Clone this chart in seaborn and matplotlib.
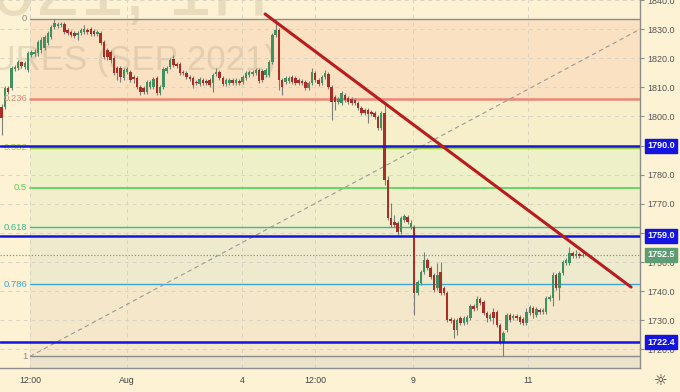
import numpy as np
import pandas as pd
import matplotlib
matplotlib.use("Agg")
import matplotlib.pyplot as plt
import matplotlib.transforms as mtransforms
from matplotlib import font_manager
import seaborn as sns

# hourly candles, gold futures (Sep 2021)
opens = [1803.2, 1803.2, 1809.8, 1809.8, 1816.3, 1816.6, 1818.7, 1817.0, 1816.0, 1821.1,
         1821.5, 1821.8, 1822.8, 1823.5, 1825.2, 1827.3, 1830.7, 1831.1, 1831.4, 1831.8,
         1829.7, 1829.0, 1828.7, 1828.0, 1828.7, 1829.0, 1829.7, 1830.0, 1829.4, 1828.3,
         1828.7, 1825.6, 1822.8, 1822.1, 1820.1, 1816.6, 1816.6, 1813.2, 1815.3, 1815.3,
         1813.6, 1813.2, 1810.1, 1809.8, 1808.4, 1810.1, 1810.1, 1813.2, 1808.1, 1810.1,
         1815.6, 1817.0, 1819.7, 1818.0, 1818.0, 1815.3, 1814.9, 1813.6, 1813.2, 1811.8,
         1811.1, 1812.5, 1812.2, 1812.5, 1811.5, 1814.6, 1815.3, 1813.2, 1811.1, 1811.5,
         1812.5, 1811.5, 1812.2, 1811.8, 1813.2, 1814.2, 1814.6, 1814.9, 1816.0, 1815.6,
         1814.2, 1814.2, 1818.7, 1828.0, 1829.7, 1812.5, 1811.8, 1812.2, 1813.6, 1813.2,
         1812.5, 1812.2, 1811.8, 1809.8, 1811.5, 1814.9, 1812.5, 1811.5, 1813.6, 1814.6,
         1810.1, 1806.7, 1805.0, 1804.6, 1807.4, 1806.3, 1806.0, 1805.7, 1804.6, 1802.9,
         1802.2, 1802.2, 1801.5, 1801.2, 1799.8, 1796.0, 1801.2, 1778.2, 1765.1, 1763.7,
         1763.4, 1760.3, 1764.4, 1765.5, 1762.0, 1762.0, 1739.4, 1742.8, 1746.6, 1750.7,
         1747.9, 1745.5, 1741.1, 1746.6, 1741.1, 1739.4, 1730.4, 1730.1, 1726.6, 1730.8,
         1729.1, 1729.4, 1730.8, 1734.9, 1734.2, 1737.3, 1736.3, 1732.5, 1730.4, 1732.8,
         1732.8, 1728.4, 1722.5, 1726.6, 1731.8, 1730.8, 1731.5, 1731.1, 1730.4, 1729.1,
         1732.5, 1734.2, 1731.8, 1733.5, 1732.8, 1732.8, 1737.3, 1737.6, 1745.5, 1741.1,
         1746.2, 1749.7, 1749.7, 1753.1, 1752.1, 1752.8, 1752.1]
highs = [1804.3, 1810.5, 1810.5, 1817.3, 1817.7, 1819.4, 1819.0, 1819.0, 1822.5, 1822.8,
         1823.2, 1826.3, 1827.3, 1828.0, 1829.4, 1831.4, 1833.5, 1832.4, 1832.4, 1832.4,
         1830.4, 1829.7, 1829.4, 1829.4, 1830.4, 1831.4, 1830.4, 1830.7, 1830.0, 1829.7,
         1829.4, 1826.3, 1823.5, 1822.8, 1820.8, 1817.3, 1817.3, 1816.6, 1817.0, 1816.0,
         1814.2, 1813.9, 1810.8, 1810.5, 1812.5, 1812.5, 1813.6, 1813.9, 1810.8, 1817.0,
         1817.3, 1820.1, 1821.1, 1818.7, 1818.7, 1816.0, 1815.6, 1814.2, 1813.9, 1812.5,
         1813.6, 1813.2, 1812.9, 1813.2, 1814.9, 1816.6, 1816.0, 1813.9, 1813.2, 1813.2,
         1813.2, 1813.2, 1812.9, 1814.2, 1815.6, 1816.0, 1816.0, 1816.6, 1816.6, 1816.3,
         1816.6, 1819.4, 1828.7, 1833.5, 1830.4, 1813.2, 1813.9, 1813.9, 1814.2, 1813.9,
         1813.2, 1812.9, 1812.5, 1812.2, 1816.6, 1815.6, 1813.2, 1814.2, 1816.0, 1815.3,
         1810.8, 1807.4, 1806.7, 1808.7, 1808.1, 1807.0, 1806.7, 1806.3, 1805.3, 1803.6,
         1802.9, 1802.9, 1802.2, 1801.9, 1800.5, 1801.9, 1803.9, 1779.5, 1770.3, 1766.1,
         1764.1, 1765.8, 1766.5, 1766.1, 1764.4, 1762.7, 1743.8, 1747.3, 1753.4, 1751.4,
         1748.6, 1746.2, 1749.7, 1750.0, 1741.8, 1740.0, 1731.1, 1730.8, 1730.8, 1731.5,
         1731.5, 1731.8, 1735.6, 1735.6, 1738.3, 1738.0, 1737.0, 1733.2, 1732.5, 1734.2,
         1733.5, 1729.1, 1726.3, 1732.5, 1732.5, 1732.1, 1732.1, 1731.8, 1731.1, 1734.2,
         1735.2, 1734.9, 1734.5, 1734.2, 1734.2, 1738.3, 1738.7, 1746.6, 1746.2, 1746.9,
         1750.7, 1751.4, 1755.2, 1753.8, 1754.1, 1753.4, 1753.4]
lows = [1793.6, 1802.6, 1807.7, 1809.1, 1815.6, 1816.0, 1816.6, 1816.3, 1815.3, 1820.4,
        1820.8, 1820.8, 1821.8, 1822.8, 1824.5, 1826.6, 1830.0, 1830.4, 1830.7, 1828.3,
        1828.0, 1827.3, 1826.9, 1826.3, 1828.0, 1828.3, 1828.3, 1827.6, 1827.6, 1827.6,
        1824.5, 1819.7, 1819.4, 1818.4, 1814.2, 1812.5, 1811.8, 1812.5, 1814.6, 1811.8,
        1811.5, 1809.4, 1807.4, 1807.7, 1807.7, 1809.4, 1809.4, 1807.4, 1807.4, 1809.4,
        1814.9, 1816.3, 1817.0, 1816.6, 1814.2, 1814.2, 1812.9, 1812.2, 1809.8, 1810.8,
        1810.5, 1810.8, 1810.8, 1810.1, 1808.4, 1813.9, 1812.5, 1810.5, 1810.5, 1810.8,
        1810.8, 1810.8, 1810.8, 1811.1, 1812.5, 1813.6, 1813.9, 1814.2, 1811.5, 1811.8,
        1813.6, 1813.6, 1818.0, 1827.3, 1809.1, 1807.4, 1811.1, 1811.5, 1811.1, 1810.8,
        1810.8, 1810.8, 1809.1, 1809.1, 1810.8, 1811.8, 1810.5, 1810.8, 1812.9, 1809.4,
        1798.8, 1802.2, 1804.3, 1803.9, 1805.0, 1804.3, 1803.9, 1803.9, 1802.2, 1800.5,
        1800.5, 1797.7, 1800.2, 1799.1, 1795.3, 1795.3, 1776.5, 1764.4, 1762.0, 1762.0,
        1759.3, 1759.6, 1763.7, 1763.1, 1761.3, 1731.8, 1738.7, 1742.1, 1745.9, 1747.3,
        1744.2, 1739.7, 1740.4, 1738.7, 1738.7, 1729.4, 1729.1, 1723.9, 1724.9, 1728.4,
        1728.4, 1728.7, 1730.1, 1733.2, 1733.5, 1735.2, 1731.8, 1729.4, 1729.7, 1728.7,
        1727.7, 1721.8, 1717.6, 1726.0, 1729.4, 1730.1, 1730.1, 1728.7, 1728.4, 1728.4,
        1731.8, 1730.8, 1731.1, 1732.1, 1732.1, 1732.1, 1736.6, 1734.9, 1740.4, 1737.0,
        1745.5, 1749.0, 1749.0, 1751.4, 1751.4, 1751.4, 1751.7]
closes = [1799.5, 1809.8, 1808.4, 1816.6, 1817.0, 1818.7, 1817.3, 1818.4, 1821.8, 1822.1,
          1822.1, 1825.6, 1826.3, 1827.3, 1828.7, 1830.7, 1832.1, 1831.8, 1831.8, 1829.0,
          1828.7, 1828.0, 1827.6, 1828.7, 1829.7, 1830.0, 1829.0, 1828.3, 1828.3, 1829.0,
          1825.2, 1820.4, 1820.4, 1819.4, 1814.9, 1814.9, 1813.6, 1816.0, 1816.3, 1812.5,
          1812.9, 1810.1, 1808.4, 1808.4, 1811.8, 1811.8, 1812.9, 1808.1, 1810.1, 1816.3,
          1816.6, 1819.4, 1817.7, 1817.3, 1814.9, 1814.9, 1813.6, 1812.9, 1810.8, 1811.5,
          1812.9, 1811.5, 1811.5, 1810.8, 1814.2, 1815.3, 1813.2, 1811.1, 1812.5, 1812.5,
          1811.5, 1812.5, 1811.5, 1813.6, 1814.9, 1815.3, 1815.3, 1816.0, 1812.2, 1812.5,
          1816.0, 1818.7, 1828.0, 1829.7, 1812.5, 1810.1, 1813.2, 1813.2, 1811.8, 1811.5,
          1811.5, 1811.5, 1809.8, 1811.5, 1815.3, 1812.5, 1811.1, 1813.6, 1814.9, 1810.1,
          1805.0, 1805.0, 1806.0, 1808.1, 1805.7, 1805.0, 1804.6, 1804.6, 1802.9, 1801.2,
          1801.2, 1800.8, 1800.8, 1799.8, 1796.0, 1801.2, 1778.2, 1765.1, 1762.7, 1762.7,
          1760.3, 1765.1, 1765.8, 1763.7, 1763.4, 1739.4, 1743.1, 1746.6, 1750.7, 1747.9,
          1744.9, 1740.4, 1745.5, 1739.4, 1739.4, 1730.1, 1729.7, 1726.6, 1730.1, 1729.1,
          1730.8, 1731.1, 1734.9, 1733.9, 1737.3, 1735.9, 1732.5, 1730.8, 1731.8, 1730.8,
          1728.4, 1722.5, 1725.6, 1731.8, 1730.1, 1731.5, 1730.8, 1729.4, 1729.1, 1732.8,
          1734.5, 1732.5, 1733.9, 1732.8, 1733.5, 1737.6, 1738.0, 1745.5, 1741.1, 1746.2,
          1750.0, 1750.7, 1753.1, 1752.1, 1752.8, 1752.1, 1752.5]

# fibonacci retracement, high 1833.5 -> low 1717.6
fib_ratios = [0, 0.236, 0.382, 0.5, 0.618, 0.786, 1]
fib_labels = ["0", "0.236", "0.382", "0.5", "0.618", "0.786", "1"]
fib_high = 1833.5
fib_low = 1717.6

# horizontal levels marked on the price scale
levels = [1790.0, 1759.0, 1722.4]
last_price = 1752.5

# trend line (candle index, price)
trend_x = [79.8, 190.7]
trend_y = [1835.2, 1741.4]

xtick_pos = [8.6, 38.0, 72.8, 95.0, 124.7, 159.4]
xtick_labels = ["12:00", "Aug", "4", "12:00", "9", "11"]

BG = "#fdf2d3"
fib_line_colors = ["#8c8c8c", "#ec8575", "#9ccf3a", "#5fd35f", "#3dbb8c", "#3ea6d8", "#8c8c8c"]
fib_fill_colors = ["#f9e1c1", "#f6efca", "#eef0c7", "#f1efcb", "#eeeacd", "#f5e7c9"]
UP = "#3f9160"
DOWN = "#a92e25"
BLUE = "#1414e0"

sns.set_style("white")
avail = {f.name for f in font_manager.fontManager.ttflist}
narrow = "Liberation Sans Narrow" if "Liberation Sans Narrow" in avail else "Liberation Sans"
plt.rcParams["font.family"] = ["Liberation Sans", "DejaVu Sans"]

fig = plt.figure(figsize=(6.8, 3.92), dpi=100, facecolor=BG)
ax = fig.add_axes([0, 24 / 392, 640 / 680, 368 / 392])
ax.set_facecolor(BG)

x0, x1 = -0.5, 193.4
ax.set_xlim(x0, x1)
ax.set_ylim(1713.6, 1840.0)

# fib zones
fib_start = 8.6
fib_prices = [fib_high - r * (fib_high - fib_low) for r in fib_ratios]
for k in range(len(fib_prices) - 1):
    ax.fill_between([fib_start, x1], fib_prices[k + 1], fib_prices[k],
                    color=fib_fill_colors[k], lw=0, zorder=0)
ax.fill_between([fib_start, x1], 1700, fib_prices[-1], color="#ece3cd", lw=0, zorder=0)

# watermark
ax.text(81.0, 1834.8, "GCU2021, 1H", fontsize=57, family=narrow, color="#b5a482",
        alpha=0.28, ha="right", va="baseline", zorder=0.5, clip_on=True)
ax.text(83.0, 1816.0, "GOLD FUTURES (SEP 2021)", fontsize=25, family=narrow,
        color="#b5a482", alpha=0.32, ha="right", va="baseline", zorder=0.5, clip_on=True)

# grid
yt = np.arange(1720, 1841, 10)
for y in yt:
    ax.axhline(y, color="#d9d3c4", lw=0.7, ls=(0, (4, 4)), zorder=0.6)
for xv in xtick_pos:
    ax.axvline(xv, color="#d9d3c4", lw=0.7, ls=(0, (4, 4)), zorder=0.6)

# fib lines + labels
for k, (p, lab) in enumerate(zip(fib_prices, fib_labels)):
    lw = 1.8 if lab == "0.236" else (1.3 if lab == "0.5" else 1.0)
    ax.plot([fib_start, x1], [p, p], color=fib_line_colors[k], lw=lw, zorder=1)
    ax.text(7.7, p, lab, color=fib_line_colors[k], fontsize=6.8, ha="right",
            va="center", zorder=3)

# fib diagonal
diag = pd.DataFrame({"x": [fib_start, 199.2], "y": [fib_low, fib_high]})
sns.lineplot(data=diag, x="x", y="y", ax=ax, color="#9a9a9a", lw=0.8,
             linestyle=(0, (4, 3)), zorder=1.2)

# last price dotted
ax.axhline(last_price, color="#6aa87f", lw=0.9, ls=(0, (1, 1.5)), zorder=1.3)

# candles
idx = np.arange(len(closes))
o = np.array(opens)
c = np.array(closes)
colors = np.where(c >= o, UP, DOWN)
ax.vlines(idx, lows, highs, colors="#7d7d7d", lw=0.8, zorder=2)
body = np.maximum(np.abs(c - o), 0.3)
ax.bar(idx, body, bottom=np.minimum(o, c), width=0.75, color=colors, lw=0, zorder=2.5)

# level lines
for lv in levels:
    ax.axhline(lv, color=BLUE, lw=1.8, zorder=3)

# trend line
tl = pd.DataFrame({"x": trend_x, "y": trend_y})
sns.lineplot(data=tl, x="x", y="y", ax=ax, color="#b81c1c", lw=2.2, zorder=4)

# axes styling
for s in ["left", "top"]:
    ax.spines[s].set_visible(False)
ax.spines["right"].set_color("#8c8c8c")
ax.spines["bottom"].set_color("#8c8c8c")
ax.spines["right"].set_linewidth(1)
ax.spines["bottom"].set_linewidth(1)
ax.yaxis.tick_right()
ax.set_yticks(yt)
ax.set_yticklabels([f"{v:.1f}" for v in yt], family=narrow, fontsize=6.5, color="#555555")
ax.tick_params(axis="y", length=3, width=0.8, color="#8c8c8c", pad=2)
ax.set_xticks(xtick_pos)
ax.set_xticklabels(xtick_labels, fontsize=6.3, color="#444444")
ax.tick_params(axis="x", length=0, pad=6)
ax.set_xlabel("")
ax.set_ylabel("")

# price scale labels
trans = mtransforms.blended_transform_factory(ax.transAxes, ax.transData)
for lv in levels:
    ax.text(1.011, lv, f"{lv:.1f}", transform=trans, fontsize=6.5, family=narrow,
            color="white", fontweight="bold", ha="left", va="center", zorder=6,
            bbox=dict(boxstyle="square,pad=0.28", fc=BLUE, ec=BLUE), clip_on=False)
ax.text(1.011, last_price, f"{last_price:.1f}", transform=trans, fontsize=6.5,
        family=narrow, color="white", fontweight="bold", ha="left", va="center",
        zorder=6, bbox=dict(boxstyle="square,pad=0.28", fc="#5e9c74", ec="#5e9c74"),
        clip_on=False)

fig.text(661 / 680, 1 - 381 / 392, "☼", fontsize=11, color="#333333",
         family="DejaVu Sans", ha="center", va="center")

fig.savefig("out.png", dpi=100, facecolor=BG)
